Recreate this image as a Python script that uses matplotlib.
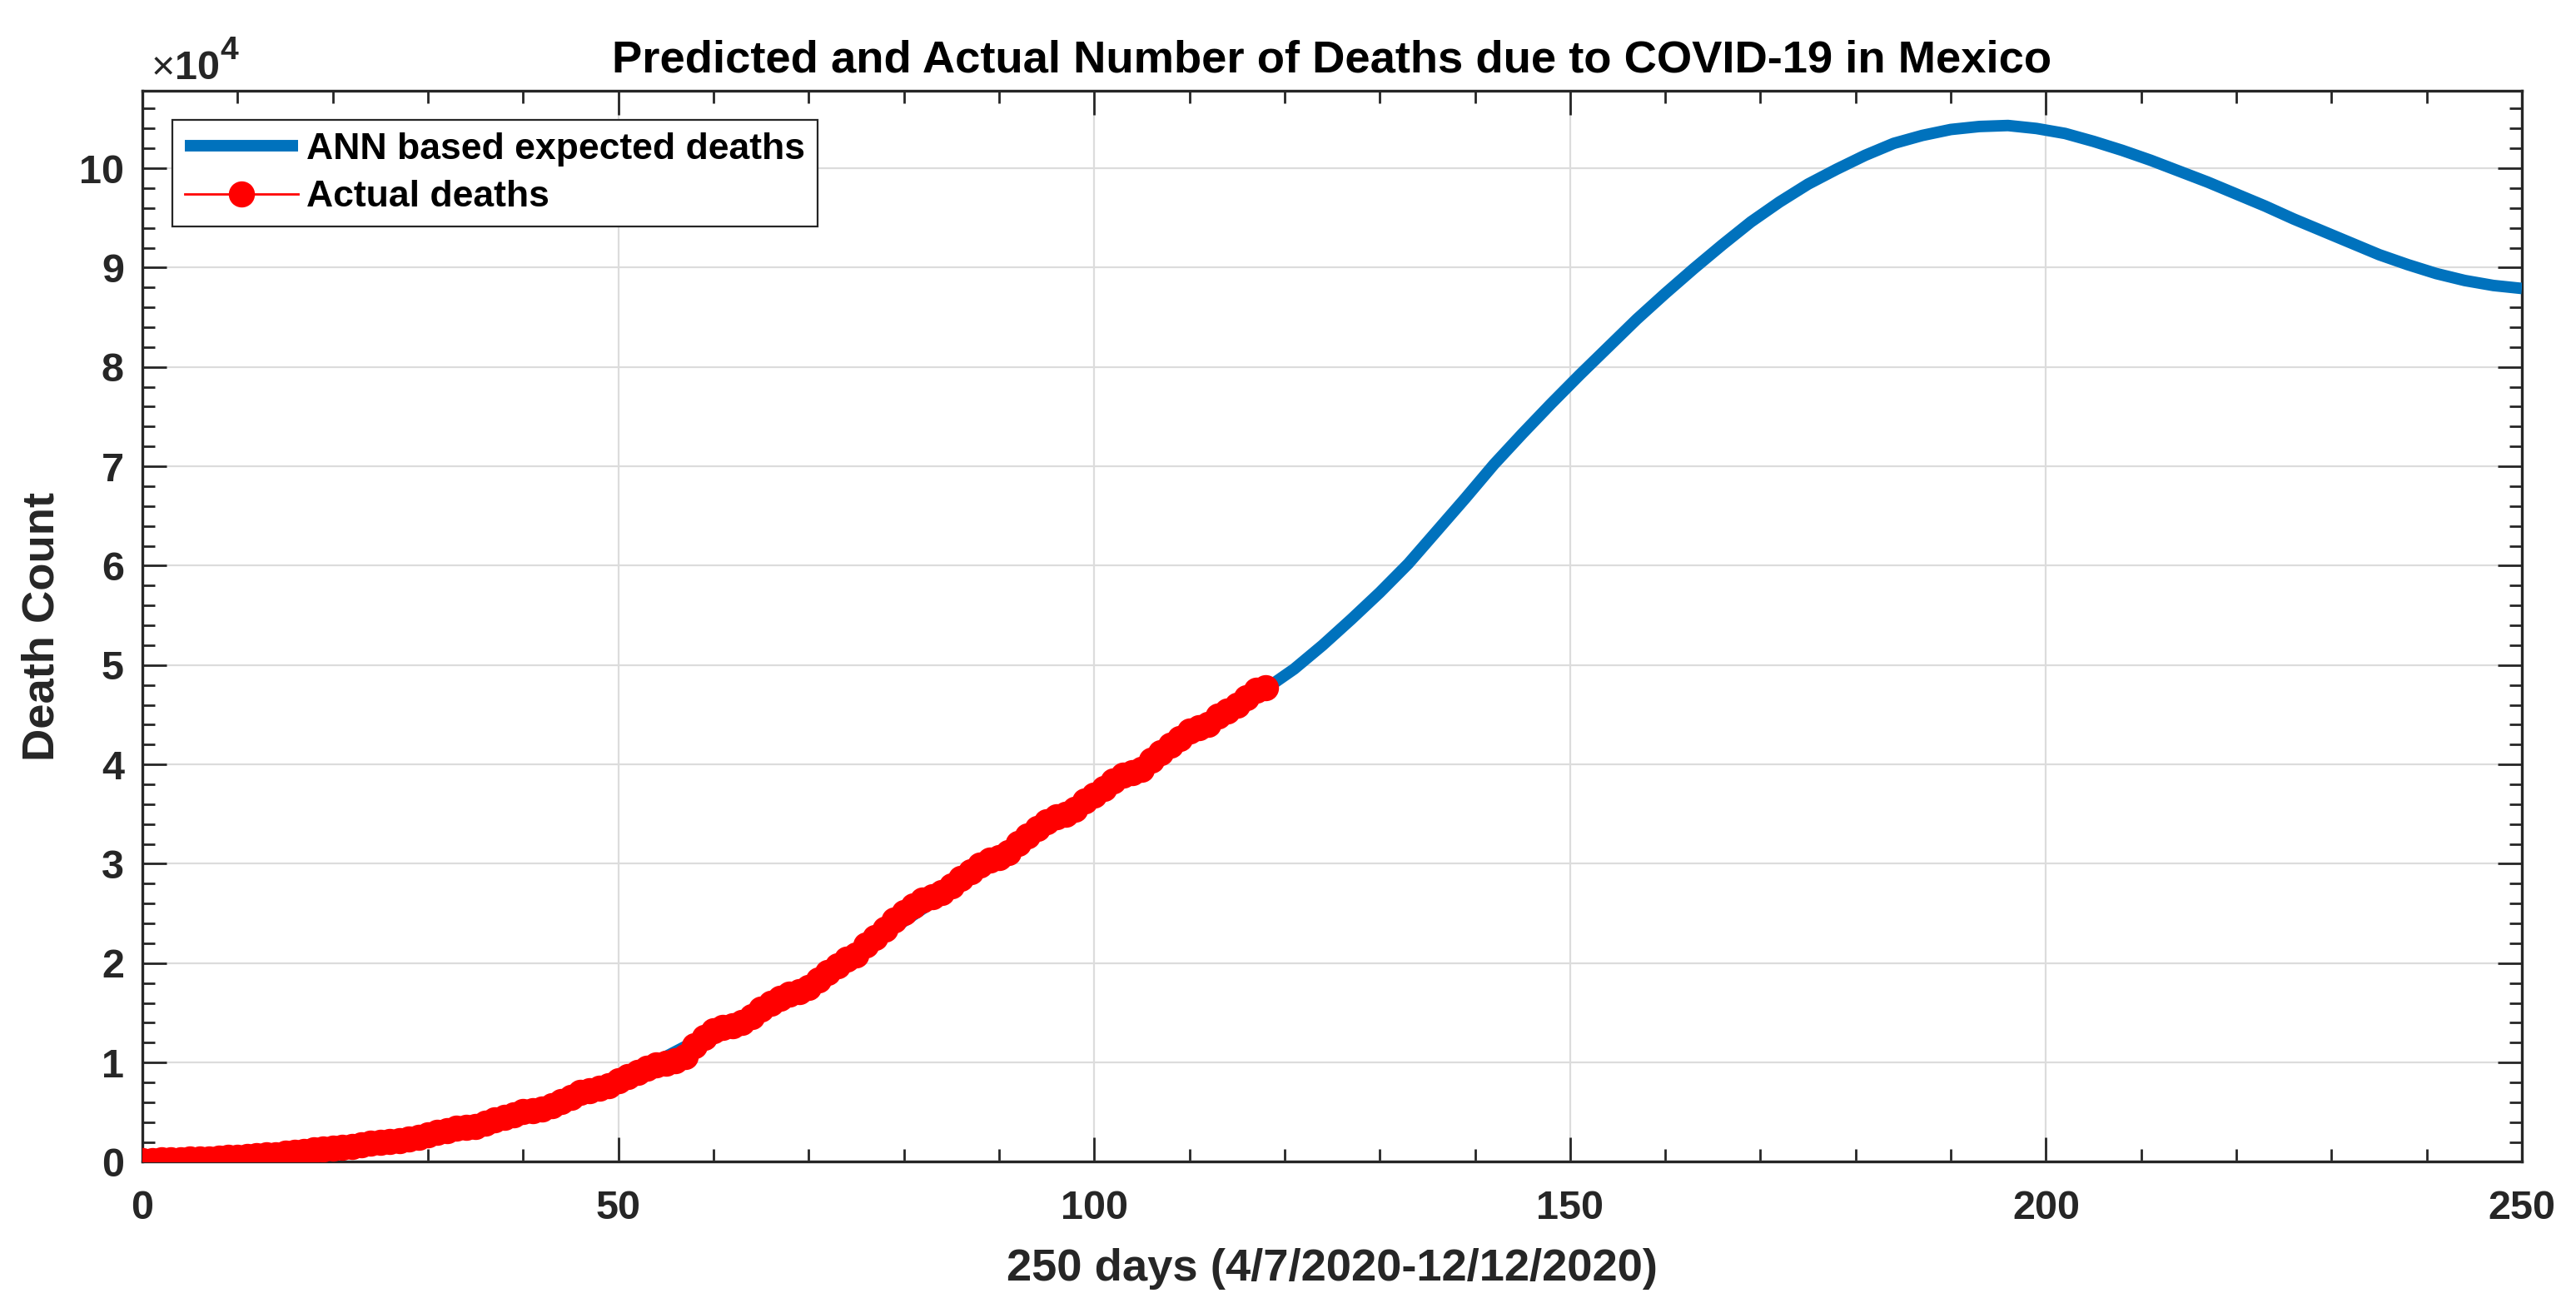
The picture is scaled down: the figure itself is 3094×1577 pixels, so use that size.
import matplotlib
matplotlib.use('Agg')
import matplotlib.pyplot as plt
from matplotlib.ticker import MultipleLocator, FuncFormatter

plt.rcParams['font.family'] = ['Liberation Sans', 'DejaVu Sans']
plt.rcParams['font.weight'] = 'bold'

# actual cumulative deaths, one value per day (day 0 .. 118)
actual_deaths = [
    125, 141, 174, 194, 233, 273, 296, 332, 406, 449,
    486, 546, 650, 686, 712, 857, 970, 1069, 1221, 1305,
    1351, 1434, 1569, 1732, 1859, 1972, 2061, 2154, 2271, 2507,
    2704, 2961, 3160, 3353, 3465, 3573, 3926, 4220, 4477, 4767,
    5045, 5177, 5332, 5666, 6090, 6510, 6989, 7179, 7394, 7633,
    8134, 8597, 9044, 9415, 9779, 9930, 10167, 10637, 11729, 12545,
    13170, 13511, 13699, 14053, 14649, 15357, 15944, 16448, 16872, 17141,
    17580, 18310, 19080, 19747, 20394, 20781, 21825, 22584, 23377, 24324,
    25060, 25779, 26381, 26648, 27121, 27769, 28510, 29189, 29843, 30366,
    30639, 31119, 32014, 32796, 33526, 34191, 34730, 35006, 35491, 36327,
    36906, 37574, 38310, 38888, 39184, 39485, 40400, 41190, 41908, 42645,
    43374, 43680, 44022, 44876, 45361, 46000, 46688, 47472, 47746,
]
actual_days = list(range(len(actual_deaths)))

# ANN expected deaths: every 5 days under the red points, every 3 days after
ann_days = list(range(0, 116, 5)) + list(range(118, 251, 3))
ann_deaths = [
    150, 300, 500, 800, 1300, 1900, 2700, 3700, 5000, 6700,
    8600, 10600, 13100, 15600, 18200, 21000, 24200, 27400, 31000, 34000,
    37000, 39900, 42600, 45600,
    47600, 49600, 52000, 54600, 57300, 60200, 63500, 66800, 70200, 73300,
    76300, 79200, 82000, 84800, 87400, 89900, 92300, 94600, 96600, 98400,
    99900, 101300, 102500, 103300, 103900, 104200, 104300, 104000, 103500, 102700,
    101800, 100800, 99700, 98600, 97400, 96200, 94900, 93700, 92500, 91300,
    90300, 89400, 88700, 88200, 87900,
]

fig = plt.figure(figsize=(15.47, 7.885), dpi=200)
ax = fig.add_axes([0.0553, 0.1151, 0.9237, 0.8158])

dark = '#262626'

ax.plot(ann_days, ann_deaths, color='#0072BD', linewidth=5, solid_capstyle='butt',
        solid_joinstyle='round', label='ANN based expected deaths', zorder=3)
ax.plot(actual_days, actual_deaths, color='#FF0000', linewidth=1, marker='o',
        markersize=10.8, markerfacecolor='#FF0000', markeredgecolor='#FF0000',
        markeredgewidth=0.5, label='Actual deaths', zorder=4)

ax.set_xlim(0, 250)
ax.set_ylim(0, 107800)

ax.xaxis.set_major_locator(MultipleLocator(50))
ax.xaxis.set_minor_locator(MultipleLocator(10))
ax.yaxis.set_major_locator(MultipleLocator(10000))
ax.yaxis.set_minor_locator(MultipleLocator(2000))
ax.yaxis.set_major_formatter(FuncFormatter(lambda v, p: '%d' % round(v / 10000)))

ax.tick_params(which='both', direction='in', top=True, right=True,
               color=dark, labelcolor=dark, width=1.0)
ax.tick_params(which='major', length=10.5, labelsize=17.5)
ax.tick_params(which='minor', length=5.5)
ax.tick_params(axis='x', which='major', pad=12)
ax.tick_params(axis='y', which='major', pad=8)

for s in ax.spines.values():
    s.set_color(dark)
    s.set_linewidth(1.2)

ax.grid(True, which='major', color='#dcdcdc', linewidth=0.8)
ax.set_axisbelow(True)

ax.set_title('Predicted and Actual Number of Deaths due to COVID-19 in Mexico',
             fontsize=19.6, fontweight='bold', color='black', pad=8)
ax.set_xlabel('250 days (4/7/2020-12/12/2020)', fontsize=19.6, fontweight='bold',
              color=dark, labelpad=9)
ax.set_ylabel('Death Count', fontsize=19.6, fontweight='bold', color=dark, labelpad=7)

# exponent label at the top left of the y axis
ax.text(0.0037, 1.0109, '\u00d7', transform=ax.transAxes, fontsize=17.5,
        fontweight='normal', color=dark, ha='left', va='baseline')
ax.text(0.0135, 1.0109, '10', transform=ax.transAxes, fontsize=17.5,
        fontweight='bold', color=dark, ha='left', va='baseline')
ax.text(0.0328, 1.0295, '4', transform=ax.transAxes, fontsize=14,
        fontweight='bold', color=dark, ha='left', va='baseline')

leg = ax.legend(loc='upper left', bbox_to_anchor=(0.0126, 0.9728), borderaxespad=0,
                fontsize=16, handlelength=3.07, handletextpad=0.22, borderpad=0.33,
                labelspacing=0.37, fancybox=False, framealpha=1, edgecolor=dark)
leg.get_frame().set_linewidth(0.8)
for t in leg.get_texts():
    t.set_fontweight('bold')
    t.set_color('black')

fig.savefig('out.png', dpi=200)
